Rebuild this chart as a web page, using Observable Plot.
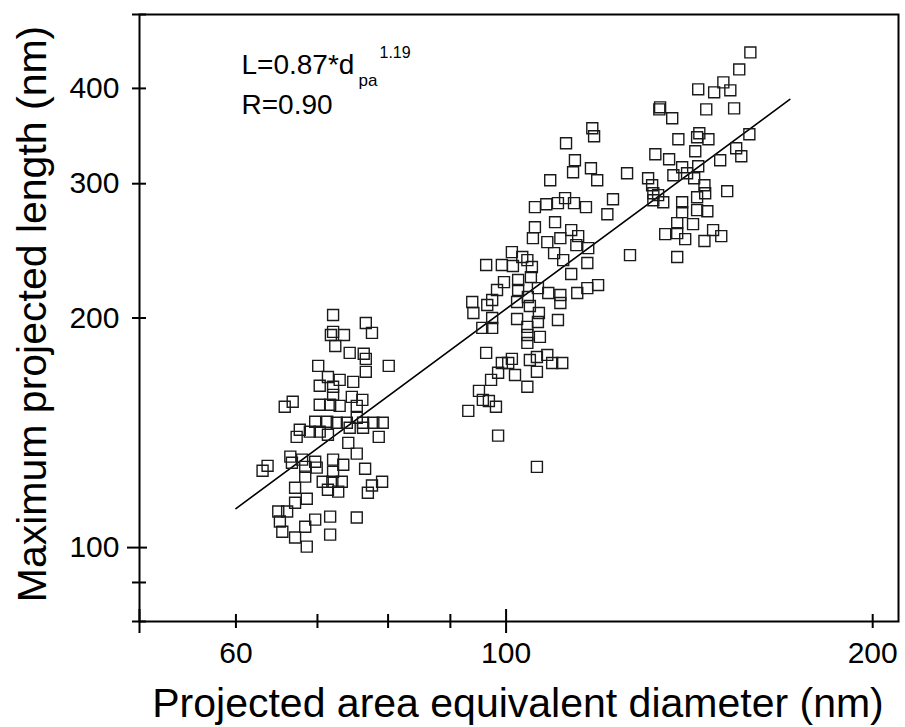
<!DOCTYPE html>
<html><head><meta charset="utf-8">
<script src="https://cdn.jsdelivr.net/npm/d3@7"></script>
<script src="https://cdn.jsdelivr.net/npm/@observablehq/plot@0.6"></script>
<style>body{margin:0;background:#fff}</style>
</head><body><div id="chart"></div>
<script>
// ---- data (projected area equivalent diameter d_pa [nm], maximum projected length L [nm]) ----
const dGroupA = [72.1,76.7,77.6,72.1,73.6,71.8,72.4,74.4,76.4,76.7,
  80.1,70.1,76.7,71.4,73.0,74.9,70.3,72.1,76.2,74.7,
  72.1,70.3,66.8,65.8,71.7,73.0,75.4,69.7,71.3,72.6,
  74.0,75.4,76.3,77.8,79.2,67.7,67.3,69.0,70.3,71.4,
  74.4,76.3,78.6,74.2,75.4,66.5,63.7,63.1,66.7,68.0,
  68.4,69.7,69.9,72.1,73.5,72.1,76.6,68.4,70.7,72.0,
  73.3,71.4,72.8,79.1,77.6,77.0,67.1,68.6,67.1,65.0,
  66.1,65.2,71.7,75.4,69.7,68.4,65.5,71.7,67.1,68.6];
const lGroupA = [201.8,197.0,191.2,191.8,190.0,190.0,183.8,180.0,179.5,176.8,
  173.1,173.1,170.0,167.4,165.9,164.9,163.0,162.5,156.2,157.6,
  158.6,153.9,155.3,153.0,153.9,153.4,153.4,146.2,146.2,145.8,
  145.8,148.0,145.8,145.8,145.8,142.7,139.7,141.9,141.9,140.6,
  143.6,143.6,139.7,137.2,132.8,131.6,128.0,126.1,129.2,130.4,
  127.6,129.6,127.3,130.4,128.4,125.7,126.9,123.9,122.0,122.0,
  122.0,119.1,118.4,122.0,120.6,118.0,119.8,115.9,114.5,111.5,
  111.5,108.2,109.8,109.5,108.8,106.5,104.9,104.0,103.1,100.3];

const dGroupB = [117.7,118.1,112.0,113.9,113.5,117.4,118.8,125.7,108.7,122.4,
  121.1,111.8,105.6,107.9,110.3,113.7,116.3,109.7,105.6,105.2,
  108.1,110.8,113.1,114.6,114.2,116.8,109.5,111.4,116.6,113.1,
  126.4,101.1,103.1,104.1,96.3,99.2,101.3,105.0,102.3,104.8,
  99.6,98.3,106.2,108.3,114.4,116.6,119.0,110.8,102.3,104.2,
  93.8,96.5,97.4,94.0,102.1,104.6,106.4,110.8,97.4,95.6,
  97.4,102.1,104.1,106.2,110.3,106.6,104.1,104.1,96.3,101.1,
  99.2,100.4,104.6,106.0,108.1,109.1,111.2,106.0,98.5,101.7,
  97.2,104.1,95.0,95.7,98.1,96.8,93.1,98.5,106.0];
const lGroupB = [354.6,346.2,338.9,322.0,310.6,314.3,303.2,309.6,303.2,286.3,
  273.6,287.2,279.5,282.0,282.9,282.9,279.5,267.1,263.1,254.5,
  251.5,254.5,260.8,256.1,249.2,247.0,243.3,238.2,236.1,228.4,
  241.8,244.0,240.4,238.2,234.7,234.7,234.0,233.3,224.3,226.3,
  222.9,217.6,218.9,215.7,215.7,218.9,220.9,214.4,217.6,213.1,
  209.9,208.0,211.2,203.0,209.9,207.4,203.0,209.3,200.0,194.1,
  194.1,199.4,194.7,197.6,198.8,188.9,190.0,185.5,180.0,176.8,
  174.6,174.6,176.2,177.8,178.9,174.6,174.6,170.0,169.5,168.4,
  165.9,162.5,160.5,156.2,153.0,155.7,151.1,140.2,127.6];

const dGroupC = [158.7,155.4,150.8,148.2,152.8,143.8,133.8,133.6,136.9,146.0,
  153.9,158.4,138.5,144.1,143.5,146.6,143.0,132.6,136.1,154.5,
  156.0,149.9,130.8,139.5,140.8,137.2,143.8,142.7,131.8,132.1,
  133.3,134.6,132.1,145.5,145.7,143.5,151.9,139.5,139.5,143.5,
  146.3,138.2,142.4,135.1,138.2,140.3,147.9,150.2,145.5,
  138.2];
const lGroupC = [445.9,423.6,407.4,395.3,397.7,398.9,377.8,375.5,365.5,375.5,
  376.6,348.3,343.1,349.3,345.1,343.1,330.9,327.9,323.0,333.9,
  325.9,322.0,305.0,315.3,309.6,307.8,316.2,305.0,298.6,291.5,
  289.8,283.7,285.4,298.6,291.5,288.0,293.3,283.7,275.3,277.0,
  276.1,266.3,265.5,257.6,258.4,253.8,260.8,256.1,252.3,
  240.4];

// fitted power law L = 0.87*d^1.19, end points as drawn
const fitD = [60, 171];
const fitL = [112.5, 387];

// axis ticks
const xMinorTicks = [60, 70, 80, 90, 200];
const xMajorTicks = [50, 100];
const xLabelTicks = [60, 100, 200];
const yMinorTicks = [80, 90, 200, 300, 400, 500];
const yMajorTicks = [100];
const yLabelTicks = [100, 200, 300, 400];

const xTitle = "Projected area equivalent diameter (nm)";
const yTitle = "Maximum projected length (nm)";
const eqMain = "L=0.87*d";
const eqSub = "pa";
const eqSup = "1.19";
const rText = "R=0.90";

// ---- build tables ----
const points = [];
[[dGroupA, lGroupA], [dGroupB, lGroupB], [dGroupC, lGroupC]].forEach(([ds, ls]) => {
  ds.forEach((d, i) => points.push({d, L: ls[i]}));
});
const fit = fitD.map((d, i) => ({d, L: fitL[i]}));

const font = '"Liberation Sans", Arial, Helvetica, sans-serif';
const id = v => v;

const chart = Plot.plot({
  width: 905,
  height: 727,
  marginLeft: 139,
  marginRight: 7,
  marginTop: 14,
  marginBottom: 106,
  style: {fontFamily: font, background: "white", color: "black"},
  x: {type: "log", domain: [50, 210]},
  y: {type: "log", domain: [80, 500]},
  marks: [
    Plot.line(fit, {x: "d", y: "L", stroke: "black", strokeWidth: 1.6}),
    Plot.dot(points, {x: "d", y: "L", symbol: "square", r: 6.2, stroke: "#1a1a1a", strokeWidth: 1.4, fill: "none"}),
    Plot.frame({stroke: "black", strokeWidth: 2}),
    // crossing ticks
    Plot.axisX({ticks: xMinorTicks, tickSize: 14, dy: -7, stroke: "black", strokeWidth: 2, fill: "none", tickFormat: () => "", label: null}),
    Plot.axisX({ticks: xMajorTicks, tickSize: 24, dy: -12, stroke: "black", strokeWidth: 2, fill: "none", tickFormat: () => "", label: null}),
    Plot.axisY({ticks: yMinorTicks, tickSize: 14, dx: 7, stroke: "black", strokeWidth: 2, fill: "none", tickFormat: () => "", label: null}),
    Plot.axisY({ticks: yMajorTicks, tickSize: 20, dx: 8, stroke: "black", strokeWidth: 2, fill: "none", tickFormat: () => "", label: null}),
    // tick labels
    Plot.axisX({ticks: xLabelTicks, tickSize: 0, tickPadding: 20, fontSize: 30, fill: "black", tickFormat: d => String(d), label: null}),
    Plot.axisY({ticks: yLabelTicks, tickSize: 0, tickPadding: 20, fontSize: 30, fill: "black", tickFormat: d => String(d), label: null}),
    // axis titles
    Plot.text([xTitle], {text: id, frameAnchor: "bottom", dx: -1, dy: 95, textAnchor: "middle", lineAnchor: "bottom", fontSize: 41, fill: "black"}),
    Plot.text([yTitle], {text: id, frameAnchor: "left", rotate: -90, dx: -94, dy: -4, textAnchor: "middle", lineAnchor: "bottom", fontSize: 41, fill: "black"}),
    // annotation
    Plot.text([eqMain], {text: id, frameAnchor: "top-left", dx: 102, dy: 59, textAnchor: "start", lineAnchor: "bottom", fontSize: 28, fill: "black"}),
    Plot.text([eqSub], {text: id, frameAnchor: "top-left", dx: 219, dy: 71, textAnchor: "start", lineAnchor: "bottom", fontSize: 17, fill: "black"}),
    Plot.text([eqSup], {text: id, frameAnchor: "top-left", dx: 240, dy: 43, textAnchor: "start", lineAnchor: "bottom", fontSize: 16, fill: "black"}),
    Plot.text([rText], {text: id, frameAnchor: "top-left", dx: 102, dy: 99, textAnchor: "start", lineAnchor: "bottom", fontSize: 28, fill: "black"})
  ]
});
document.getElementById("chart").appendChild(chart);
</script>
</body></html>
